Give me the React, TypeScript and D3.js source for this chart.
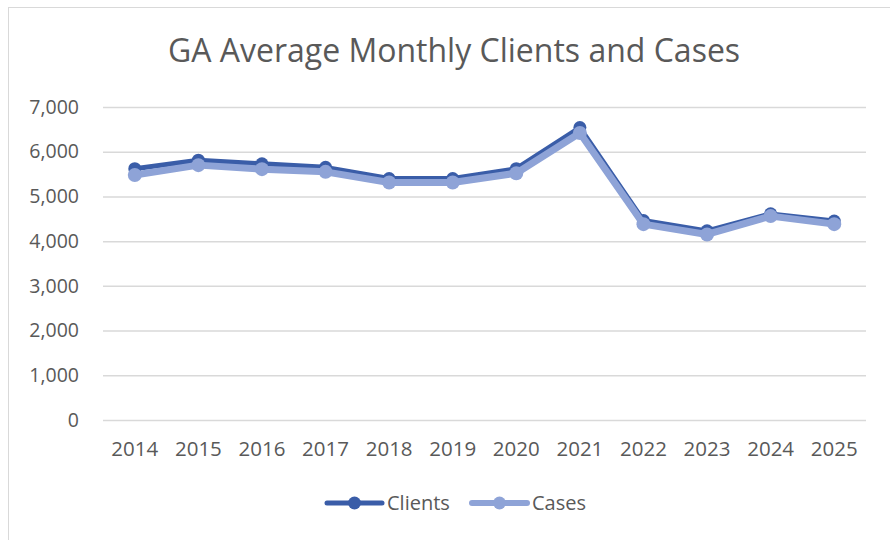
import React, { useEffect, useRef } from "react";
import * as d3 from "d3";

const years = ["2014", "2015", "2016", "2017", "2018", "2019", "2020", "2021", "2022", "2023", "2024", "2025"];
const clients = [5620, 5810, 5730, 5650, 5400, 5400, 5620, 6540, 4460, 4230, 4610, 4450];
const cases = [5480, 5700, 5610, 5550, 5310, 5310, 5520, 6420, 4380, 4150, 4560, 4380];
const yTicks = [0, 1000, 2000, 3000, 4000, 5000, 6000, 7000];

const App = () => {
  const ref = useRef<SVGSVGElement>(null);

  useEffect(() => {
    const width = 890;
    const height = 540;
    const marginLeft = 103;
    const marginRight = 24;
    const yTop = 107;
    const yBottom = 420;
    const font = "'Open Sans', sans-serif";
    const textColor = "#595959";
    const clientColor = "#3A5DA8";
    const caseColor = "#8EA3D7";

    const svg = d3.select(ref.current)
      .attr("width", width)
      .attr("height", height)
      .attr("viewBox", [0, 0, width, height])
      .style("display", "block")
      .style("position", "absolute")
      .style("left", "0px")
      .style("top", "0px");

    svg.selectAll("*").remove(); // Clear previous render

    // background and outer border
    svg.append("rect").attr("width", width).attr("height", height).attr("fill", "#fff");
    svg.append("rect")
      .attr("x", 8.5).attr("y", 7.5)
      .attr("width", width).attr("height", height)
      .attr("fill", "none")
      .attr("stroke", "#d9d9d9");

    const x = d3.scaleBand().domain(years).range([marginLeft, width - marginRight]);
    const y = d3.scaleLinear().domain([0, 7000]).range([yBottom, yTop]);

    // title
    svg.append("text")
      .attr("x", 454).attr("y", 62)
      .attr("text-anchor", "middle")
      .attr("font-family", font)
      .attr("font-size", 32)
      .attr("fill", textColor)
      .text("GA Average Monthly Clients and Cases");

    // gridlines + y labels
    const yAxis = svg.append("g")
      .attr("transform", `translate(${marginLeft},0)`)
      .call(d3.axisLeft(y).tickValues(yTicks).tickFormat(d3.format(",")).tickSize(0).tickPadding(24))
      .call(g => g.select(".domain").remove());
    yAxis.selectAll(".tick text")
      .attr("font-family", font)
      .attr("font-size", 19.5)
      .attr("fill", textColor);
    yAxis.selectAll(".tick line")
      .attr("x2", width - marginRight - marginLeft)
      .attr("stroke", "#d9d9d9")
      .attr("stroke-width", 1.5);

    // x labels
    const xAxis = svg.append("g")
      .attr("transform", `translate(0,${yBottom})`)
      .call(d3.axisBottom(x).tickSize(0).tickPadding(21))
      .call(g => g.select(".domain").remove());
    xAxis.selectAll(".tick text")
      .attr("font-family", font)
      .attr("font-size", 20.5)
      .attr("fill", textColor);

    const cx = (i: number) => (x(years[i]) as number) + x.bandwidth() / 2;

    const series = [
      { name: "Clients", values: clients, color: clientColor, width: 5, r: 6.5 },
      { name: "Cases", values: cases, color: caseColor, width: 7, r: 7 },
    ];

    const line = d3.line<number>()
      .x((_, i) => cx(i))
      .y(d => y(d));

    series.forEach(s => {
      svg.append("path")
        .datum(s.values)
        .attr("fill", "none")
        .attr("stroke", s.color)
        .attr("stroke-width", s.width)
        .attr("stroke-linejoin", "round")
        .attr("d", line);
      svg.append("g")
        .selectAll("circle")
        .data(s.values)
        .join("circle")
        .attr("cx", (_, i) => cx(i))
        .attr("cy", d => y(d))
        .attr("r", s.r)
        .attr("fill", s.color);
    });

    // legend
    const legend = [
      { name: "Clients", color: clientColor, width: 5, x0: 327 },
      { name: "Cases", color: caseColor, width: 6, x0: 472 },
    ];
    const ly = 503;
    legend.forEach(l => {
      svg.append("line")
        .attr("x1", l.x0).attr("x2", l.x0 + 55)
        .attr("y1", ly).attr("y2", ly)
        .attr("stroke", l.color)
        .attr("stroke-width", l.width)
        .attr("stroke-linecap", "round");
      svg.append("circle")
        .attr("cx", l.x0 + 27.5).attr("cy", ly)
        .attr("r", 6.5)
        .attr("fill", l.color);
      svg.append("text")
        .attr("x", l.x0 + 60).attr("y", ly)
        .attr("dy", "0.35em")
        .attr("font-family", font)
        .attr("font-size", 20)
        .attr("fill", textColor)
        .text(l.name);
    });
  }, []);

  return <svg ref={ref}></svg>;
};

export default App;
